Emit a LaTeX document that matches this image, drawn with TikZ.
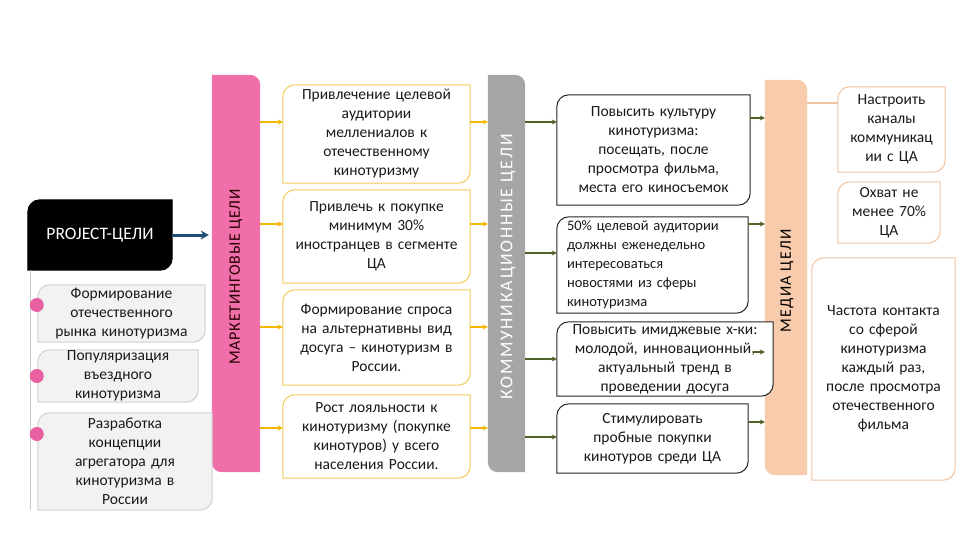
\documentclass[tikz,border=0pt]{standalone}
\usepackage{fontspec}
\setmainfont{Carlito}
\usetikzlibrary{arrows.meta,backgrounds}

\definecolor{mktpink}{HTML}{F06EAA}
\definecolor{dotpink}{HTML}{E8609F}
\definecolor{combar}{HTML}{A6A6A6}
\definecolor{mediabar}{HTML}{F8CBAD}
\definecolor{mktline}{HTML}{F2CB57}
\definecolor{mktarrow}{HTML}{F5B800}
\definecolor{comarrow}{HTML}{4F6228}
\definecolor{medialine}{HTML}{F2C3A0}
\definecolor{projarrow}{HTML}{1F4E79}
\definecolor{projline}{HTML}{C8C8C8}

% box with round top-left and bottom-right corners
\newcommand\goalframe[3]{%
  \filldraw[draw=#2,fill=#3,line width=1pt] (#1.south west) -- ([yshift=-12pt]#1.north west)
    arc[start angle=180,end angle=90,radius=12pt] -- (#1.north east)
    -- ([yshift=12pt]#1.south east) arc[start angle=0,end angle=-90,radius=12pt] -- cycle;}
% bar with round top-right and bottom-left corners
\newcommand\barframe[2]{%
  \fill[#2] (#1.north west) -- ([xshift=-10pt]#1.north east)
    arc[start angle=90,end angle=0,radius=10pt] -- (#1.south east)
    -- ([xshift=10pt]#1.south west) arc[start angle=270,end angle=180,radius=10pt] -- cycle;}

\begin{document}
\begin{tikzpicture}[x=1pt,y=-1pt,
    cell/.style={minimum width=#1pt, text width=#1pt, inner sep=0pt, align=center,
      font=\fontsize{15.5}{19}\selectfont, text=black!90},
    bar/.style={minimum width=#1pt, inner sep=0pt},
    bartext/.style={rotate=90},
    dot/.style={circle, fill=dotpink, minimum size=14pt, inner sep=0pt},
    mktto/.style={draw=mktarrow, line width=1.3pt, -{Stealth[length=5pt,width=5pt]}},
    comto/.style={draw=comarrow, line width=1.3pt, -{Stealth[length=5pt,width=5pt]}},
    mediato/.style={draw=medialine, line width=1.3pt},
    projto/.style={draw=projarrow, line width=3pt, -{Stealth[length=8pt,width=9pt]}}]
  \useasboundingbox (0,0) rectangle (960,540);

  % project goals
  \node[cell=144, minimum height=70pt, text=white, font=\fontsize{17.5}{19}\selectfont] (proj) at (100,235) {PROJECT-ЦЕЛИ};
  \node[cell=167, minimum height=57pt] (form) at (121.5,313.5) {Формирование\\отечественного\\рынка кинотуризма};
  \node[cell=160, minimum height=52pt] (popul) at (118,376) {Популяризация\\въездного\\кинотуризма};
  \node[cell=174, minimum height=97pt] (aggr) at (125,461.5) {Разработка\\концепции\\агрегатора для\\кинотуризма в\\России};

  % bars
  \node[bar=48, minimum height=397pt] (mkt) at (236,273.5) {};
  \node[bar=37, minimum height=397pt] (com) at (506.5,273.5) {};
  \node[bar=42, minimum height=395pt] (media) at (786,277.5) {};
  \node[bartext, text=black!85!red, font=\fontsize{16}{19}\selectfont\addfontfeatures{LetterSpace=5}] (mkttext) at (236,277) {МАРКЕТИНГОВЫЕ ЦЕЛИ};
  \node[bartext, text=white, font=\fontsize{18}{19}\selectfont\addfontfeatures{LetterSpace=10}] (comtext) at (508,267) {КОММУНИКАЦИОННЫЕ ЦЕЛИ};
  \node[bartext, text=black, font=\fontsize{16}{19}\selectfont\addfontfeatures{LetterSpace=8}] (mediatext) at (787,281) {МЕДИА ЦЕЛИ};

  % marketing goals
  \node[cell=187, minimum height=98pt] (aud) at (376.5,134) {Привлечение целевой\\аудитории\\меллениалов к\\отечественному\\кинотуризму};
  \node[cell=187, minimum height=93pt] (foreign) at (376.5,236.5) {Привлечь к покупке\\минимум 30\%\\иностранцев в сегменте\\ЦА};
  \node[cell=187, minimum height=95pt] (demand) at (376.5,337.5) {Формирование спроса\\на альтернативны вид\\досуга – кинотуризм в\\России.};
  \node[cell=187, minimum height=83pt] (loyal) at (376.5,436.5) {Рост лояльности к\\кинотуризму (покупке\\кинотуров) у всего\\населения России.};

  % communication goals
  \node[cell=193, minimum height=110pt] (culture) at (653.5,150) {Повысить культуру\\кинотуризма:\\посещать, после\\просмотра фильма,\\места его киносъемок};
  \node[cell=171, minimum height=96pt, inner xsep=10pt, align=left, font=\fontsize{14.5}{19}\selectfont] (news) at (652.5,265) {50\% целевой аудитории\\должны еженедельно\\интересоваться\\новостями из сферы\\кинотуризма};
  \node[cell=216, minimum height=74pt] (image) at (665,359) {Повысить имиджевые х-ки:\\молодой, инновационный,\\актуальный тренд в\\проведении досуга};
  \node[cell=191, minimum height=69pt] (trial) at (652.5,438.5) {Стимулировать\\пробные покупки\\кинотуров среди ЦА};

  % media goals
  \node[cell=107, minimum height=85pt] (channel) at (891.5,129.5) {Настроить\\каналы\\коммуникац\\ии с ЦА};
  \node[cell=102, minimum height=61pt] (reach) at (889,212.5) {Охват не\\менее 70\%\\ЦА};
  \node[cell=143, minimum height=222pt] (freq) at (883.5,369) {Частота контакта\\со сферой\\кинотуризма\\каждый раз,\\после просмотра\\отечественного\\фильма};

  \begin{pgfonlayer}{background}
    \barframe{mkt}{mktpink}
    \barframe{com}{combar}
    \barframe{media}{mediabar}
    \goalframe{proj}{black}{black}
    \foreach \n in {form,popul,aggr} {\goalframe{\n}{black!18}{black!5}}
    \foreach \n in {aud,foreign,demand,loyal} {\goalframe{\n}{mktline}{white}}
    \foreach \n in {culture,news,image,trial} {\goalframe{\n}{black!85}{white}}
    \foreach \n in {channel,reach,freq} {\goalframe{\n}{medialine}{white}}
    \draw[projline, line width=1.2pt] ([xshift=3pt]proj.south west) -- ([xshift=3pt]proj.south west |- aggr.south);
  \end{pgfonlayer}

  \node[dot] (dform) at ([xshift=-1pt,yshift=8.5pt]form.west) {};
  \node[dot] (dpopul) at ([xshift=-1pt]popul.west) {};
  \node[dot] (daggr) at ([xshift=-1pt,yshift=27.5pt]aggr.west) {};

  \draw[projto] (proj.east) -- ([xshift=-3pt]proj.east -| mkt.west);

  \foreach \n/\s in {aud/12,foreign/12.5,demand/10.5,loyal/8.5} {
    \draw[mktto] ([yshift=\s pt]\n.west -| mkt.east) -- ([yshift=\s pt]\n.west);
    \draw[mktto] ([yshift=\s pt]\n.east) -- ([yshift=\s pt]\n.east -| com.west);
  }

  \draw[comto] ([yshift=28pt]culture.west -| com.east) -- ([yshift=28pt]culture.west);
  \draw[comto] ([yshift=12pt]news.west -| com.east) -- ([yshift=12pt]news.west);
  \draw[comto] (image.west -| com.east) -- (image.west);
  \draw[comto] ([yshift=1.5pt]trial.west -| com.east) -- ([yshift=1.5pt]trial.west);
  \draw[comto] ([yshift=32pt]culture.east) -- ([yshift=32pt]culture.east -| media.west);
  \draw[comto] ([yshift=41pt]news.east) -- ([yshift=41pt]news.east -| media.west);
  \draw[comto] ([shift={(-20pt,7pt)}]image.east) -- ([yshift=7pt]image.east -| media.west);
  \draw[comto] ([yshift=16.5pt]trial.east) -- ([yshift=16.5pt]trial.east -| media.west);

  \draw[mediato] ([yshift=26.5pt]channel.west -| media.east) -- ([yshift=26.5pt]channel.west);
\end{tikzpicture}
\end{document}
